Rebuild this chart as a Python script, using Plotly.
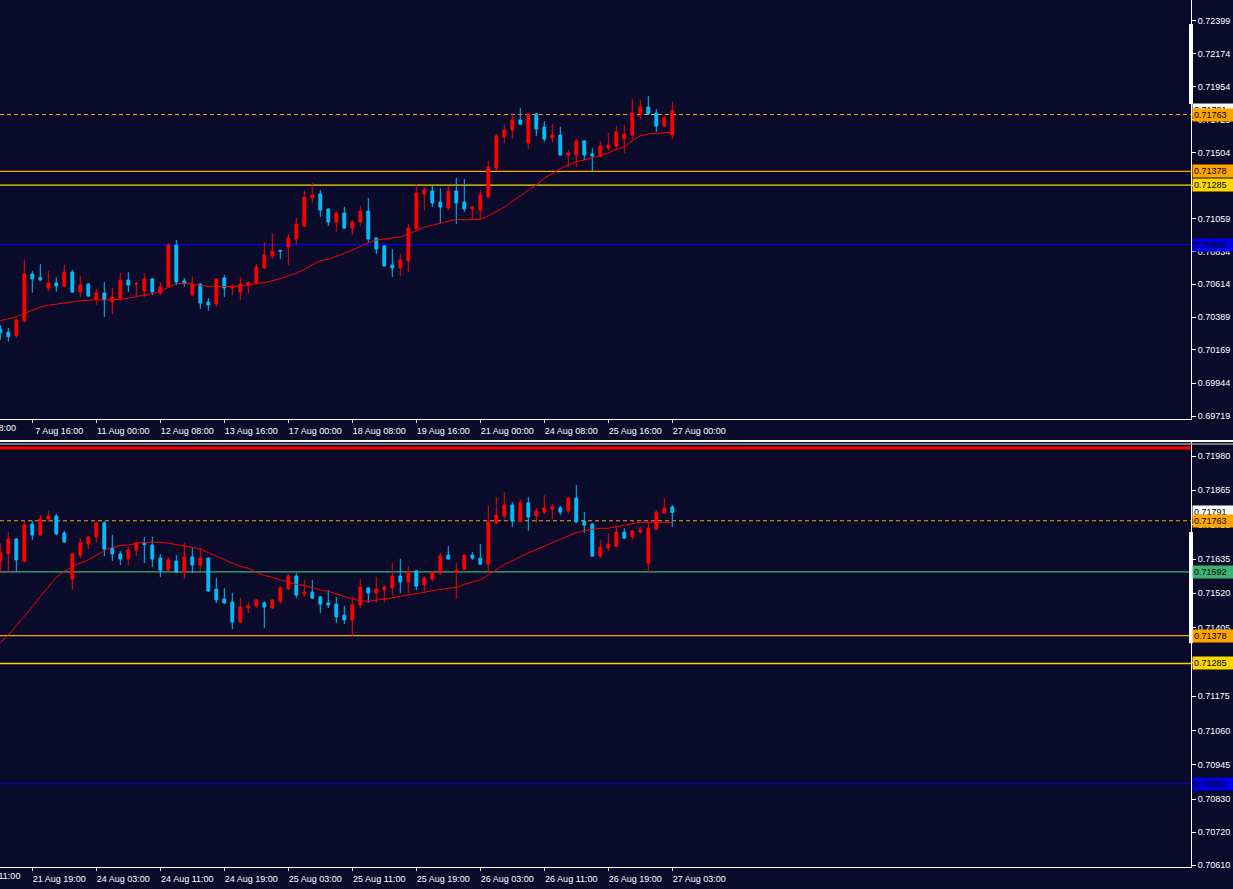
import plotly.graph_objects as go

# ---------------- data: upper panel (4H) ----------------
top_open = [0.70310,0.70288,0.70265,0.70366,0.70683,0.70658,0.70588,0.70622,0.70601,0.70696,
            0.70561,0.70615,0.70511,0.70554,0.70493,0.70520,0.70642,0.70615,0.70567,0.70649,
            0.70554,0.70595,0.70879,0.70635,0.70540,0.70615,0.70493,0.70479,0.70656,0.70588,
            0.70561,0.70606,0.70622,0.70723,0.70805,0.70843,0.70866,0.70920,0.71008,0.71198,
            0.71225,0.71123,0.71035,0.71096,0.70994,0.71035,0.71109,0.70927,0.70872,0.70744,
            0.70723,0.70771,0.70988,0.71225,0.71245,0.71170,0.71130,0.71245,0.71170,0.71123,
            0.71116,0.71204,0.71401,0.71611,0.71658,0.71726,0.71570,0.71767,0.71679,0.71604,
            0.71624,0.71489,0.71489,0.71584,0.71496,0.71482,0.71536,0.71550,0.71597,0.71624,
            0.71767,0.71814,0.71773,0.71685,0.71624]
top_high = [0.70337,0.70317,0.70383,0.70778,0.70703,0.70750,0.70703,0.70658,0.70744,0.70710,
            0.70669,0.70620,0.70581,0.70628,0.70588,0.70689,0.70696,0.70628,0.70689,0.70655,
            0.70628,0.70893,0.70913,0.70656,0.70669,0.70622,0.70520,0.70655,0.70676,0.70615,
            0.70662,0.70635,0.70750,0.70899,0.70960,0.70845,0.70954,0.71062,0.71245,0.71299,
            0.71252,0.71130,0.71109,0.71137,0.71049,0.71143,0.71198,0.70930,0.70879,0.70852,
            0.70818,0.71021,0.71292,0.71272,0.71279,0.71265,0.71279,0.71333,0.71326,0.71140,
            0.71252,0.71448,0.71631,0.71692,0.71773,0.71807,0.71770,0.71773,0.71719,0.71699,
            0.71679,0.71523,0.71597,0.71591,0.71536,0.71584,0.71638,0.71685,0.71692,0.71868,
            0.71862,0.71889,0.71801,0.71753,0.71848]
top_low = [0.70236,0.70224,0.70251,0.70353,0.70556,0.70637,0.70563,0.70563,0.70595,0.70554,
           0.70527,0.70527,0.70473,0.70391,0.70412,0.70500,0.70561,0.70529,0.70527,0.70540,
           0.70540,0.70590,0.70608,0.70595,0.70535,0.70446,0.70432,0.70459,0.70527,0.70540,
           0.70507,0.70549,0.70615,0.70716,0.70784,0.70784,0.70744,0.70886,0.71000,0.71164,
           0.71069,0.71008,0.70967,0.70988,0.70947,0.71008,0.70899,0.70818,0.70735,0.70662,
           0.70669,0.70696,0.70985,0.71116,0.71137,0.71028,0.71116,0.71021,0.71103,0.71055,
           0.71049,0.71198,0.71380,0.71570,0.71597,0.71692,0.71530,0.71618,0.71577,0.71570,
           0.71485,0.71408,0.71408,0.71455,0.71380,0.71475,0.71516,0.71523,0.71502,0.71591,
           0.71733,0.71760,0.71645,0.71679,0.71597]
top_close = [0.70285,0.70258,0.70371,0.70683,0.70649,0.70642,0.70622,0.70601,0.70696,0.70561,
             0.70608,0.70534,0.70554,0.70507,0.70527,0.70642,0.70608,0.70620,0.70649,0.70561,
             0.70595,0.70879,0.70628,0.70622,0.70615,0.70486,0.70473,0.70649,0.70588,0.70601,
             0.70615,0.70624,0.70730,0.70811,0.70838,0.70838,0.70927,0.71021,0.71204,0.71218,
             0.71116,0.71035,0.71096,0.70994,0.71035,0.71109,0.70920,0.70852,0.70737,0.70723,
             0.70778,0.70994,0.71231,0.71252,0.71164,0.71137,0.71245,0.71164,0.71123,0.71137,
             0.71218,0.71408,0.71618,0.71658,0.71726,0.71699,0.71767,0.71665,0.71597,0.71624,
             0.71489,0.71502,0.71584,0.71489,0.71482,0.71550,0.71557,0.71645,0.71631,0.71773,
             0.71814,0.71767,0.71685,0.71740,0.71791]
top_ma = [0.70366,0.70378,0.70393,0.70416,0.70439,0.70457,0.70471,0.70479,0.70491,0.70498,
          0.70502,0.70504,0.70509,0.70507,0.70507,0.70511,0.70518,0.70529,0.70545,0.70556,
          0.70563,0.70593,0.70615,0.70620,0.70613,0.70608,0.70599,0.70599,0.70597,0.70597,
          0.70603,0.70608,0.70617,0.70624,0.70637,0.70651,0.70669,0.70687,0.70714,0.70746,
          0.70773,0.70782,0.70800,0.70823,0.70845,0.70872,0.70895,0.70913,0.70920,0.70925,
          0.70933,0.70952,0.70976,0.70999,0.71013,0.71026,0.71042,0.71053,0.71049,0.71049,
          0.71053,0.71076,0.71103,0.71135,0.71175,0.71211,0.71252,0.71286,0.71331,0.71365,
          0.71396,0.71421,0.71443,0.71455,0.71467,0.71484,0.71504,0.71523,0.71545,0.71584,
          0.71618,0.71631,0.71636,0.71643,0.71643]

# ---------------- data: lower panel (1H) ----------------
bot_open = [0.71629,0.71653,0.71702,0.71628,0.71752,0.71715,0.71769,0.71779,0.71722,0.71568,
            0.71648,0.71685,0.71709,0.71756,0.71672,0.71652,0.71635,0.71665,0.71687,0.71682,
            0.71638,0.71598,0.71628,0.71591,0.71642,0.71615,0.71638,0.71534,0.71501,0.71491,
            0.71424,0.71471,0.71478,0.71488,0.71471,0.71494,0.71534,0.71578,0.71518,0.71524,
            0.71508,0.71488,0.71484,0.71447,0.71431,0.71481,0.71538,0.71521,0.71531,0.71538,
            0.71578,0.71558,0.71595,0.71548,0.71568,0.71588,0.71648,0.71591,0.71601,0.71648,
            0.71638,0.71618,0.71756,0.71779,0.71816,0.71762,0.71823,0.71779,0.71792,0.71802,
            0.71806,0.71796,0.71839,0.71762,0.71752,0.71645,0.71672,0.71678,0.71725,0.71709,
            0.71725,0.71622,0.71735,0.71789,0.71809]
bot_high = [0.71688,0.71725,0.71705,0.71762,0.71762,0.71782,0.71796,0.71786,0.71729,0.71655,
            0.71705,0.71712,0.71759,0.71762,0.71715,0.71662,0.71675,0.71692,0.71709,0.71709,
            0.71652,0.71642,0.71648,0.71689,0.71672,0.71672,0.71641,0.71571,0.71538,0.71521,
            0.71504,0.71491,0.71501,0.71494,0.71501,0.71544,0.71585,0.71588,0.71565,0.71565,
            0.71511,0.71531,0.71508,0.71478,0.71508,0.71568,0.71541,0.71575,0.71548,0.71622,
            0.71635,0.71611,0.71598,0.71578,0.71595,0.71655,0.71678,0.71622,0.71650,0.71658,
            0.71685,0.71813,0.71843,0.71859,0.71826,0.71836,0.71843,0.71806,0.71849,0.71819,
            0.71813,0.71843,0.71883,0.71792,0.71755,0.71699,0.71722,0.71746,0.71739,0.71732,
            0.71742,0.71756,0.71799,0.71839,0.71816]
bot_low = [0.71592,0.71595,0.71592,0.71622,0.71699,0.71712,0.71759,0.71715,0.71689,0.71531,
           0.71638,0.71668,0.71689,0.71645,0.71628,0.71615,0.71615,0.71645,0.71622,0.71608,
           0.71575,0.71595,0.71588,0.71568,0.71588,0.71595,0.71524,0.71488,0.71484,0.71400,
           0.71421,0.71454,0.71471,0.71404,0.71468,0.71484,0.71531,0.71504,0.71508,0.71501,
           0.71454,0.71471,0.71421,0.71417,0.71377,0.71471,0.71488,0.71488,0.71491,0.71514,
           0.71521,0.71521,0.71531,0.71521,0.71558,0.71581,0.71632,0.71501,0.71598,0.71632,
           0.71615,0.71588,0.71752,0.71769,0.71742,0.71759,0.71729,0.71756,0.71786,0.71769,
           0.71782,0.71786,0.71756,0.71722,0.71642,0.71638,0.71662,0.71675,0.71702,0.71699,
           0.71719,0.71591,0.71732,0.71786,0.71742]
bot_close = [0.71656,0.71702,0.71632,0.71749,0.71715,0.71769,0.71779,0.71719,0.71692,0.71652,
             0.71689,0.71709,0.71756,0.71668,0.71652,0.71635,0.71665,0.71689,0.71684,0.71635,
             0.71598,0.71632,0.71591,0.71642,0.71615,0.71638,0.71528,0.71498,0.71488,0.71424,
             0.71474,0.71478,0.71498,0.71474,0.71498,0.71538,0.71578,0.71514,0.71524,0.71504,
             0.71484,0.71481,0.71441,0.71431,0.71481,0.71541,0.71521,0.71534,0.71541,0.71578,
             0.71558,0.71591,0.71544,0.71571,0.71591,0.71645,0.71635,0.71598,0.71648,0.71638,
             0.71618,0.71759,0.71782,0.71816,0.71762,0.71823,0.71776,0.71796,0.71806,0.71809,
             0.71792,0.71839,0.71759,0.71749,0.71645,0.71675,0.71685,0.71725,0.71705,0.71729,
             0.71732,0.71739,0.71792,0.71806,0.71791]
bot_ma = [0.71355,0.71380,0.71411,0.71442,0.71475,0.71509,0.71542,0.71574,0.71594,0.71609,
          0.71621,0.71632,0.71647,0.71663,0.71674,0.71681,0.71681,0.71688,0.71691,0.71691,
          0.71691,0.71688,0.71684,0.71678,0.71674,0.71668,0.71656,0.71645,0.71632,0.71621,
          0.71611,0.71604,0.71590,0.71580,0.71574,0.71565,0.71557,0.71550,0.71546,0.71539,
          0.71531,0.71527,0.71518,0.71508,0.71501,0.71495,0.71494,0.71497,0.71500,0.71505,
          0.71510,0.71515,0.71518,0.71523,0.71528,0.71533,0.71537,0.71540,0.71550,0.71558,
          0.71565,0.71581,0.71600,0.71617,0.71629,0.71643,0.71656,0.71667,0.71678,0.71688,
          0.71699,0.71710,0.71723,0.71730,0.71734,0.71738,0.71738,0.71743,0.71747,0.71753,
          0.71758,0.71758,0.71758,0.71758,0.71758]

# ---------------- axes labels ----------------
top_time_idx = [4, 12, 20, 28, 36, 44, 52, 60, 68, 76, 84]
top_time_labels = ["7 Aug 16:00", "11 Aug 00:00", "12 Aug 08:00", "13 Aug 16:00", "17 Aug 00:00",
                   "18 Aug 08:00", "19 Aug 16:00", "21 Aug 00:00", "24 Aug 08:00", "25 Aug 16:00",
                   "27 Aug 00:00"]
top_cut_label = "6 Aug 08:00"
bot_time_idx = [4, 12, 20, 28, 36, 44, 52, 60, 68, 76, 84]
bot_time_labels = ["21 Aug 19:00", "24 Aug 03:00", "24 Aug 11:00", "24 Aug 19:00", "25 Aug 03:00",
                   "25 Aug 11:00", "25 Aug 19:00", "26 Aug 03:00", "26 Aug 11:00", "26 Aug 19:00",
                   "27 Aug 03:00"]
bot_cut_label = "21 Aug 11:00"

top_price_ticks = [0.72399, 0.72174, 0.71954, 0.71729, 0.71504, 0.71279, 0.71059, 0.70834,
                   0.70614, 0.70389, 0.70169, 0.69944, 0.69719]
bot_price_ticks = [0.71980, 0.71865, 0.71750, 0.71635, 0.71520, 0.71405, 0.71290, 0.71175,
                   0.71060, 0.70945, 0.70830, 0.70720, 0.70610]

# horizontal levels (price, colour, dash, width)
top_levels = [(0.71763, "#FFA500", "4px,3px", 1), (0.71378, "#FFA500", "solid", 1.3),
              (0.71285, "#FFD700", "solid", 1.3), (0.70882, "#0000E6", "solid", 1.3)]
bot_levels = [(0.72007, "#FF0000", "solid", 3), (0.71763, "#FFA500", "4px,3px", 1),
              (0.71592, "#3CB371", "solid", 1.3), (0.71378, "#FFA500", "solid", 1.3),
              (0.71285, "#FFD700", "solid", 1.3), (0.70882, "#0000E6", "solid", 1)]
# price tags on the right scale (price, background)
top_tags = [(0.71791, "#FFFFFF"), (0.71763, "#FFA500"), (0.71378, "#FFA500"),
            (0.71285, "#FFD700"), (0.70882, "#0000E6")]
bot_tags = [(0.71791, "#FFFFFF"), (0.71763, "#FFA500"), (0.71592, "#3CB371"),
            (0.71378, "#FFA500"), (0.71285, "#FFD700"), (0.70882, "#0000E6")]

BG = "#0a0a2b"
UP = "#FF0000"
DN = "#00BFFF"
FONT = "Liberation Sans"

n = len(top_open)
xs = list(range(n))

fig = go.Figure()
fig.add_trace(go.Candlestick(
    x=xs, open=top_open, high=top_high, low=top_low, close=top_close,
    increasing=dict(line=dict(color=UP, width=1), fillcolor=UP),
    decreasing=dict(line=dict(color=DN, width=1), fillcolor=DN),
    whiskerwidth=0, xaxis="x", yaxis="y", showlegend=False))
fig.add_trace(go.Scatter(x=xs, y=top_ma, mode="lines", line=dict(color=UP, width=1),
                         xaxis="x", yaxis="y", showlegend=False, hoverinfo="skip"))
fig.add_trace(go.Candlestick(
    x=xs, open=bot_open, high=bot_high, low=bot_low, close=bot_close,
    increasing=dict(line=dict(color=UP, width=1), fillcolor=UP),
    decreasing=dict(line=dict(color=DN, width=1), fillcolor=DN),
    whiskerwidth=0, xaxis="x2", yaxis="y2", showlegend=False))
fig.add_trace(go.Scatter(x=xs, y=bot_ma, mode="lines", line=dict(color=UP, width=1),
                         xaxis="x2", yaxis="y2", showlegend=False, hoverinfo="skip"))

W, H = 1233, 889
ML, MR, MT, MB = 0, 42, 0, 22
PH = H - MT - MB
PW = W - ML - MR
top_dom = [1 - 419 / PH, 1]
bot_dom = [0, 1 - 441 / PH]
xr = [-0.0375, 148.84]

xcommon = dict(range=xr, showgrid=False, zeroline=False, showline=True, linecolor="#FFFFFF",
               linewidth=1, ticks="outside", ticklen=3, tickcolor="#FFFFFF", tickwidth=1,
               tickfont=dict(family=FONT, size=9, color="#FFFFFF"), ticklabelshift=27,
               rangeslider=dict(visible=False), fixedrange=True)
ycommon = dict(side="right", showgrid=False, zeroline=False, showline=True, linecolor="#FFFFFF",
               linewidth=1, ticks="outside", ticklen=4, tickcolor="#FFFFFF",
               tickfont=dict(family=FONT, size=9, color="#FFFFFF"), fixedrange=True)

shapes = []
for price, col, dash, w in top_levels:
    shapes.append(dict(type="line", xref="paper", x0=0, x1=1, yref="y", y0=price, y1=price,
                       line=dict(color=col, width=w, dash=dash), layer="below"))
for price, col, dash, w in bot_levels:
    shapes.append(dict(type="line", xref="paper", x0=0, x1=1, yref="y2", y0=price, y1=price,
                       line=dict(color=col, width=w, dash=dash), layer="below"))
# panel separator
wx = W / PW
shapes.append(dict(type="line", xref="paper", x0=0, x1=wx, yref="paper",
                   y0=1 - 441 / PH, y1=1 - 441 / PH, line=dict(color="#FFFFFF", width=2)))
shapes.append(dict(type="line", xref="paper", x0=0, x1=wx, yref="paper",
                   y0=1 - 444 / PH, y1=1 - 444 / PH, line=dict(color="#9a9a9a", width=1.5)))
# scale scroll bars
shapes.append(dict(type="rect", xref="paper", x0=1 - 2 / PW, x1=1 + 2 / PW, yref="y",
                   y0=0.71834, y1=0.72376, fillcolor="#FFFFFF", line=dict(width=0)))
shapes.append(dict(type="rect", xref="paper", x0=1 - 2 / PW, x1=1 + 2 / PW, yref="y2",
                   y0=0.71353, y1=0.71725, fillcolor="#FFFFFF", line=dict(width=0)))

annotations = []
for price, col in top_tags:
    annotations.append(dict(xref="paper", x=1, xanchor="left", xshift=1, yref="y", y=price,
                            yanchor="middle", text=f"{price:.5f}", showarrow=False,
                            bgcolor=col, borderpad=1, width=38, align="left",
                            font=dict(family=FONT, size=9, color="#000000")))
for price, col in bot_tags:
    annotations.append(dict(xref="paper", x=1, xanchor="left", xshift=1, yref="y2", y=price,
                            yanchor="middle", text=f"{price:.5f}", showarrow=False,
                            bgcolor=col, borderpad=1, width=38, align="left",
                            font=dict(family=FONT, size=9, color="#000000")))
annotations.append(dict(xref="paper", x=0, xanchor="right", xshift=18, yref="paper",
                        y=1 - 428 / PH, yanchor="middle", text=top_cut_label, showarrow=False,
                        font=dict(family=FONT, size=9, color="#FFFFFF")))
annotations.append(dict(xref="paper", x=0, xanchor="right", xshift=22, yref="paper",
                        y=(PH - 876) / PH, yanchor="middle", text=bot_cut_label, showarrow=False,
                        font=dict(family=FONT, size=9, color="#FFFFFF")))

fig.update_layout(
    width=W, height=H, margin=dict(l=ML, r=MR, t=MT, b=MB),
    paper_bgcolor=BG, plot_bgcolor=BG, hovermode=False, showlegend=False,
    boxgap=0.5,
    xaxis=dict(domain=[0, 1], anchor="y", tickvals=top_time_idx, ticktext=top_time_labels, **xcommon),
    yaxis=dict(domain=top_dom, anchor="x", range=[0.6970027, 0.72539],
               tickvals=top_price_ticks, ticktext=[f"{v:.5f}" for v in top_price_ticks], **ycommon),
    xaxis2=dict(domain=[0, 1], anchor="y2", tickvals=bot_time_idx, ticktext=bot_time_labels, **xcommon),
    yaxis2=dict(domain=bot_dom, anchor="x2", range=[0.7060332, 0.7203025],
                tickvals=bot_price_ticks, ticktext=[f"{v:.5f}" for v in bot_price_ticks], **ycommon),
    shapes=shapes, annotations=annotations,
)

fig.write_html(
    "out.html",
    config={"displayModeBar": False, "staticPlot": True},
    post_script="document.body.style.margin='0';document.body.style.padding='0';"
                "document.body.style.overflow='hidden';document.body.style.background='" + BG + "';",
)
